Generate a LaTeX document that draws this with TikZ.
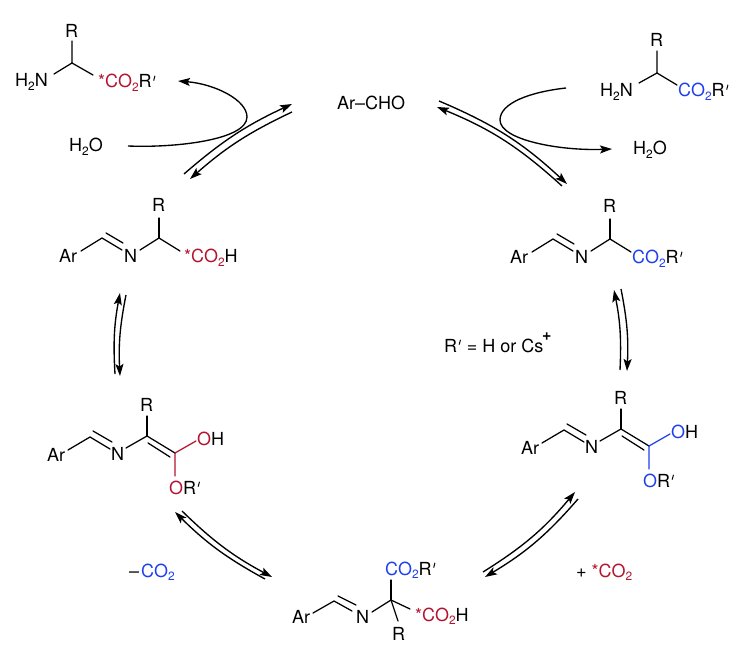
\documentclass[tikz,border=0pt]{standalone}
\usepackage{fontspec}
\setmainfont{TeX Gyre Heros}
\usetikzlibrary{arrows.meta}

\definecolor{cyclered}{HTML}{B3142F}
\definecolor{cycleblue}{HTML}{1F3FEE}
\newcommand{\two}{\raisebox{-3.5pt}{\fontsize{12}{12}\selectfont 2}}
\newcommand{\prm}{\hspace{1.5pt}\raisebox{7.5pt}{\rotatebox{-15}{\rule{1pt}{5pt}}}\hspace{1pt}}
\newcommand{\rco}{\textcolor{cyclered}{*CO\two}}
\newcommand{\bco}{\textcolor{cycleblue}{CO\two}}

\tikzset{
    txt/.style={anchor=base west, inner sep=0pt, font=\fontsize{18}{20}\selectfont},
    bond/.style={line width=1.25pt, line cap=round},
    eqarrow/.style={line width=1.35pt, -{Stealth[length=12pt,width=8pt,inset=2.5pt]}},
}

\begin{document}
\begin{tikzpicture}[x=1pt,y=-1pt]
    \useasboundingbox (0,0) rectangle (744,652);

        % Nodes
    \node (aldehyde) [txt] at (337,110) {Ar–CHO};
    \node (waterin) [txt] at (69,152) {H\two O};
    \node (waterout) [txt] at (633,155) {H\two O};
    \node (cesium) [txt] at (444,352) {R\prm{} = H or Cs};
    \node (cesiumplus) [txt, font=\fontsize{16}{16}\bfseries] at (542,340) {+};
    \node (lossco) [txt] at (129,577) {–\hspace{2pt}\bco};
    \node (gainco) [txt] at (576,577) {+ \rco};

        % product amino ester
    \node (prodr) [txt] at (65,38) {R};
    \node (prodn) [txt] at (15,87) {H\two N};
    \node (prodco) [txt] at (98,88) {\rco R\prm};
    \coordinate (prodc) at (72,63);
    \coordinate (prodca) at (72,41);
    \coordinate (prodcb) at (54,74);
    \coordinate (prodcc) at (93,75);

        % start amino ester
    \node (startr) [txt] at (650,47) {R};
    \node (startn) [txt] at (600,97) {H\two N};
    \node (startco) [txt] at (678,97) {\bco R\prm};
    \coordinate (startc) at (657,73);
    \coordinate (startca) at (657,51);
    \coordinate (startcb) at (639,83);
    \coordinate (startcc) at (677,85);

        % acid imine
    \node (acidar) [txt] at (59,263) {Ar};
    \node (acidn) [txt] at (124,263) {N};
    \node (acidr) [txt] at (152,212) {R};
    \node (acidco) [txt] at (184,263) {\rco H};
    \coordinate (acida) at (81,251);
    \coordinate (acidb) at (102,238);
    \coordinate (acidd) at (122,250);
    \coordinate (acidbb) at (106,233);
    \coordinate (aciddd) at (123,243);
    \coordinate (acide) at (140,250);
    \coordinate (acidf) at (159,238);
    \coordinate (acidg) at (159,218);
    \coordinate (acidh) at (180,251);

        % ester imine
    \node (esterar) [txt] at (510,264) {Ar};
    \node (estern) [txt] at (575,264) {N};
    \node (esterr) [txt] at (603,213) {R};
    \node (esterco) [txt] at (632,264) {\bco R\prm};
    \coordinate (estera) at (532,252);
    \coordinate (esterb) at (553,239);
    \coordinate (esterd) at (573,251);
    \coordinate (esterbb) at (557,234);
    \coordinate (esterdd) at (574,244);
    \coordinate (estere) at (591,251);
    \coordinate (esterf) at (610,239);
    \coordinate (esterg) at (610,219);
    \coordinate (esterh) at (631,252);

        % left enol
    \node (lenolar) [txt] at (47,461) {Ar};
    \node (lenoln) [txt] at (111,460) {N};
    \node (lenolr) [txt] at (140,411) {R};
    \node (lenoloh) [txt, text=cyclered] at (197,445) {O\textcolor{black}{H}};
    \node (lenolor) [txt, text=cyclered] at (169,494) {O\textcolor{black}{R\prm}};
    \coordinate (lenola) at (68,450);
    \coordinate (lenolb) at (90,437);
    \coordinate (lenold) at (110,449);
    \coordinate (lenolbb) at (93,431);
    \coordinate (lenoldd) at (112,442);
    \coordinate (lenole) at (126,448);
    \coordinate (lenolf) at (147,436);
    \coordinate (lenolg) at (147,416);
    \coordinate (lenolh) at (175,453);
    \coordinate (lenolff) at (148,443);
    \coordinate (lenolhh) at (170,457);
    \coordinate (lenoli) at (196,441);
    \coordinate (lenolj) at (175,476);

        % right enol
    \node (renolar) [txt] at (521,454) {Ar};
    \node (renoln) [txt] at (585,453) {N};
    \node (renolr) [txt] at (614,404) {R};
    \node (renoloh) [txt, text=cycleblue] at (671,438) {O\textcolor{black}{H}};
    \node (renolor) [txt, text=cycleblue] at (643,487) {O\textcolor{black}{R\prm}};
    \coordinate (renola) at (542,443);
    \coordinate (renolb) at (564,430);
    \coordinate (renold) at (584,442);
    \coordinate (renolbb) at (567,424);
    \coordinate (renoldd) at (586,435);
    \coordinate (renole) at (600,441);
    \coordinate (renolf) at (621,429);
    \coordinate (renolg) at (621,409);
    \coordinate (renolh) at (649,446);
    \coordinate (renolff) at (622,436);
    \coordinate (renolhh) at (644,450);
    \coordinate (renoli) at (670,434);
    \coordinate (renolj) at (649,469);

        % bottom adduct
    \node (addar) [txt] at (292,623) {Ar};
    \node (addn) [txt] at (356,623) {N};
    \node (addr) [txt] at (392,640) {R};
    \node (addblue) [txt] at (385,575) {\bco R\prm};
    \node (addred) [txt] at (415,621) {\rco H};
    \coordinate (adda) at (313,613);
    \coordinate (addb) at (334,601);
    \coordinate (addd) at (352,611);
    \coordinate (addbb) at (338,596);
    \coordinate (adddd) at (356,605);
    \coordinate (adde) at (372,612);
    \coordinate (addf) at (391,600);
    \coordinate (addg) at (391,580);
    \coordinate (addh) at (410,609);
    \coordinate (addi) at (398,621);

        % arrow ends
    \coordinate (tla) at (184,174);
    \coordinate (tlb) at (292,104);
    \coordinate (tlc) at (292,112);
    \coordinate (tld) at (190,179);
    \coordinate (tra) at (439,101);
    \coordinate (trb) at (567,184);
    \coordinate (trc) at (562,186);
    \coordinate (trd) at (437,107);
    \coordinate (lva) at (115,374);
    \coordinate (lvb) at (120,293);
    \coordinate (lvc) at (126,295);
    \coordinate (lvd) at (120,376);
    \coordinate (rva) at (620,370);
    \coordinate (rvb) at (614,290);
    \coordinate (rvc) at (621,289);
    \coordinate (rvd) at (627,371);
    \coordinate (bra) at (483,572);
    \coordinate (brb) at (575,492);
    \coordinate (brc) at (578,499);
    \coordinate (brd) at (485,577);
    \coordinate (bla) at (182,511);
    \coordinate (blb) at (272,577);
    \coordinate (blc) at (265,579);
    \coordinate (bld) at (175,512);
    \coordinate (hydin) at (128,146);
    \coordinate (hydturn) at (247,117);
    \coordinate (hydout) at (178,81);
    \coordinate (dryin) at (566,88);
    \coordinate (dryturn) at (500,120);
    \coordinate (dryout) at (612,149);

        % Bonds
    \draw [bond] (prodca) -- (prodc) -- (prodcb);
    \draw [bond] (prodc) -- (prodcc);
    \draw [bond] (startca) -- (startc) -- (startcb);
    \draw [bond] (startc) -- (startcc);

    \draw [bond] (acida) -- (acidb) -- (acidd);
    \draw [bond] (acidbb) -- (aciddd);
    \draw [bond] (acide) -- (acidf) -- (acidh);
    \draw [bond] (acidf) -- (acidg);

    \draw [bond] (estera) -- (esterb) -- (esterd);
    \draw [bond] (esterbb) -- (esterdd);
    \draw [bond] (estere) -- (esterf) -- (esterh);
    \draw [bond] (esterf) -- (esterg);

    \draw [bond] (lenola) -- (lenolb) -- (lenold);
    \draw [bond] (lenolbb) -- (lenoldd);
    \draw [bond] (lenole) -- (lenolf) -- (lenolh);
    \draw [bond] (lenolf) -- (lenolg);
    \draw [bond] (lenolff) -- (lenolhh);
    \draw [bond, cyclered] (lenoli) -- (lenolh) -- (lenolj);

    \draw [bond] (renola) -- (renolb) -- (renold);
    \draw [bond] (renolbb) -- (renoldd);
    \draw [bond] (renole) -- (renolf) -- (renolh);
    \draw [bond] (renolf) -- (renolg);
    \draw [bond] (renolff) -- (renolhh);
    \draw [bond, cycleblue] (renoli) -- (renolh) -- (renolj);

    \draw [bond] (adda) -- (addb) -- (addd);
    \draw [bond] (addbb) -- (adddd);
    \draw [bond] (adde) -- (addf) -- (addh);
    \draw [bond] (addf) -- (addg);
    \draw [bond] (addf) -- (addi);

        % Arrows
    \draw [eqarrow] (tla) to[bend left=8] (tlb);
    \draw [eqarrow] (tlc) to[bend right=8] (tld);
    \draw [eqarrow] (tra) to[bend left=10] (trb);
    \draw [eqarrow] (trc) to[bend right=10] (trd);
    \draw [eqarrow] (lva) to[bend left=7] (lvb);
    \draw [eqarrow] (lvc) to[bend right=7] (lvd);
    \draw [eqarrow] (rva) to[bend right=7] (rvb);
    \draw [eqarrow] (rvc) to[bend left=7] (rvd);
    \draw [eqarrow] (bra) to[bend right=9] (brb);
    \draw [eqarrow] (brc) to[bend left=9] (brd);
    \draw [eqarrow] (bla) to[bend right=8] (blb);
    \draw [eqarrow] (blc) to[bend left=8] (bld);

    \draw [eqarrow] (hydin) .. controls (175,148) and (247,140) .. (hydturn) .. controls (247,100) and (215,84) .. (hydout);
    \draw [eqarrow] (dryin) .. controls (530,92) and (500,103) .. (dryturn) .. controls (500,140) and (560,151) .. (dryout);

\end{tikzpicture}
\end{document}
